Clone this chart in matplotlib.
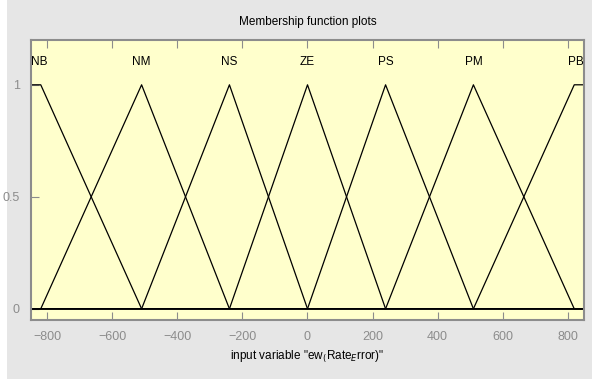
import matplotlib.pyplot as plt
import numpy as np
from matplotlib.patches import Rectangle

# Fuzzy sets of the input "ew(Rate_Error)"
mf_names = ["NB", "NM", "NS", "ZE", "PS", "PM", "PB"]
mf_params = [
    [-850, -850, -820, -510],   # trapmf
    [-820, -510, -510, -240],   # trimf written as trapezoid
    [-510, -240, -240, 0],
    [-240, 0, 0, 240],
    [0, 240, 240, 510],
    [240, 510, 510, 820],
    [510, 820, 850, 850],       # trapmf
]
x_range = [-850, 850]
x_ticks = [-800, -600, -400, -200, 0, 200, 400, 600, 800]
y_ticks = [0, 0.5, 1]

FONT = ["Liberation Sans Narrow", "Liberation Sans", "DejaVu Sans"]
GRAY = "#8c8c8c"


def trap(x, a, b, c, d):
    left = np.where(b > a, (x - a) / max(b - a, 1e-9), 1.0)
    right = np.where(d > c, (d - x) / max(d - c, 1e-9), 1.0)
    y = np.minimum(np.minimum(left, right), 1.0)
    return np.clip(y, 0.0, 1.0)


fig = plt.figure(figsize=(5.92, 3.79), dpi=100, facecolor="#e6e6e6")
fig.patches.append(Rectangle((0, 0), 7 / 592, 1, transform=fig.transFigure,
                             facecolor="white", edgecolor="none", zorder=-1))
ax = fig.add_axes([31 / 592, 1 - 320 / 379, 553 / 592, 280 / 379])
ax.set_facecolor("#ffffcc")

x = np.linspace(x_range[0], x_range[1], 3401)
for name, p in zip(mf_names, mf_params):
    y = trap(x, *p)
    ax.plot(x, y, color="black", lw=0.9)
    # label sits over the plateau of each set, kept inside the axes
    xc = (max(p[1], x_range[0]) + min(p[2], x_range[1])) / 2
    xc = min(max(xc, x_range[0] + 25), x_range[1] - 25)
    ax.text(xc, 1.1, name, ha="center", va="center", fontsize=8.5,
            family=FONT, color="black")

ax.set_xlim(x_range)
ax.set_ylim(-0.05, 1.2)
ax.set_xticks(x_ticks)
ax.set_yticks(y_ticks)
ax.set_yticklabels(["0", "0.5", "1"])
ax.tick_params(direction="in", length=6, color=GRAY, labelcolor=GRAY,
               labelsize=9, top=True, pad=8)
for lab in ax.get_xticklabels() + ax.get_yticklabels():
    lab.set_family(FONT)
for s in ax.spines.values():
    s.set_color("#8c8c8c")
    s.set_linewidth(1.5)

ax.set_title("Membership function plots", fontsize=8.5, family=FONT, pad=11)
ax.set_xlabel(r'input variable "ew${}_($Rate${}_E$rror)"', fontsize=8.5,
              family=FONT, labelpad=4)

fig.savefig("out.png", dpi=100, facecolor=fig.get_facecolor())
